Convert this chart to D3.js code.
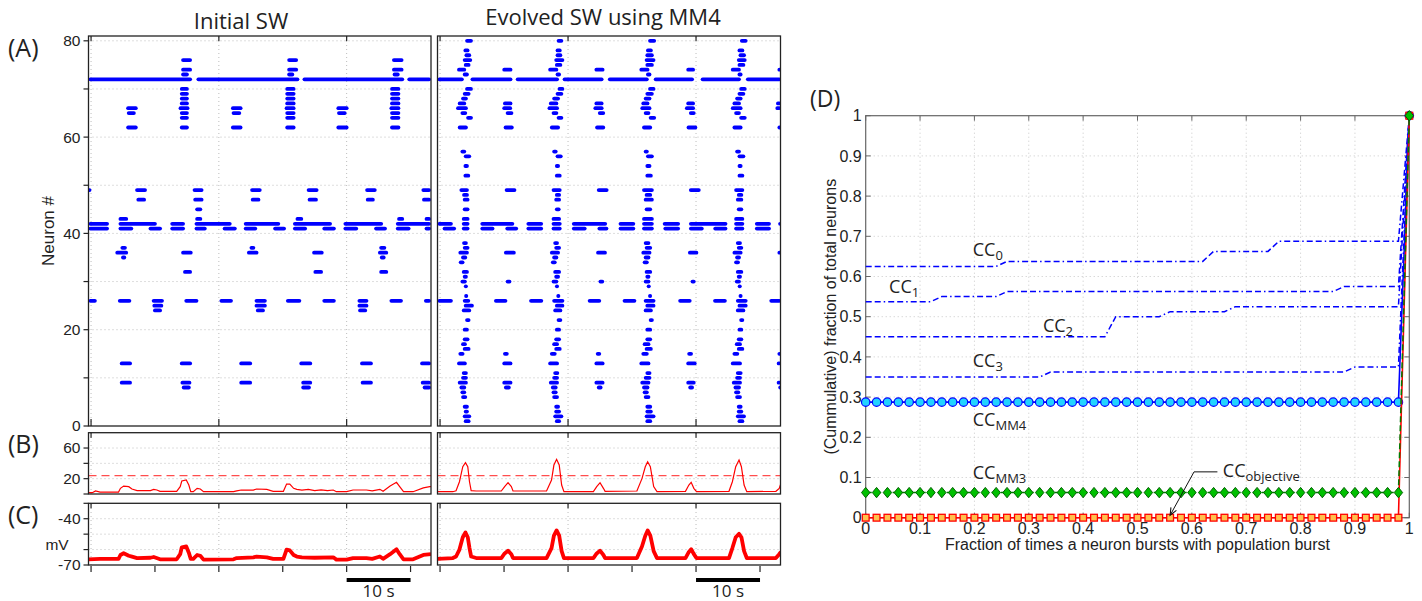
<!DOCTYPE html>
<html>
<head>
<meta charset="utf-8">
<script src="https://cdnjs.cloudflare.com/ajax/libs/d3/7.8.5/d3.min.js"></script>
<style>
  html, body { margin: 0; padding: 0; background: #fff; }
  svg { display: block; }
</style>
</head>
<body>
<script>
// ---------------------------------------------------------------------------
// Data
// ---------------------------------------------------------------------------

// Raster of bursts: [neuron #, [[start s, end s], ...]]
const rasterInitial = [
  [76, [[14.1, 15.8], [30.7, 32.4], [47.1, 48.9]]],
  [74, [[14.1, 15.8], [30.7, 32.4], [47.1, 48.9]]],
  [73, [[14.1, 15.3], [30.7, 31.8], [47.2, 48.3]]],
  [72, [[-0.4, 15.8], [16.5, 32.6], [33.1, 49.0], [49.5, 53.2]]],
  [70, [[13.9, 15.3], [30.4, 32.0], [46.8, 48.4]]],
  [69, [[13.9, 15.3], [30.4, 32.0], [46.8, 48.4]]],
  [68, [[13.9, 15.3], [30.4, 32.0], [46.8, 48.4]]],
  [67, [[13.9, 15.3], [30.4, 32.0], [46.8, 48.4]]],
  [66, [[5.5, 7.3], [13.7, 15.4], [21.9, 23.7], [30.3, 32.0], [38.4, 40.3], [46.7, 48.4]]],
  [65, [[5.6, 7.0], [13.9, 15.3], [22.0, 23.5], [30.4, 32.0], [38.5, 40.0], [46.8, 48.4]]],
  [64, [[13.9, 15.3], [30.4, 32.0], [46.8, 48.4]]],
  [62, [[5.5, 7.3], [13.9, 15.3], [21.9, 23.7], [30.4, 32.0], [38.4, 40.3], [46.8, 48.4]]],
  [49, [[-0.4, -0.1], [6.9, 8.75], [15.9, 17.6], [24.9, 26.7], [33.75, 35.6], [42.9, 44.7], [51.7, 53.2]]],
  [47, [[7.1, 8.6], [16.0, 17.6], [25.0, 26.5], [33.9, 35.5], [43.0, 44.4], [51.8, 53.2]]],
  [45, [[16.3, 17.4]]],
  [43, [[4.3, 5.8], [16.3, 17.4], [32.0, 33.2], [47.9, 49.0], [52.2, 53.2]]],
  [42, [[-0.4, 2.8], [4.3, 10.3], [12.4, 14.7], [16.2, 22.0], [23.9, 29.6], [31.6, 37.7], [39.5, 45.7], [47.7, 53.2]]],
  [41, [[-0.4, 2.8], [4.3, 6.6], [9.0, 11.1], [12.4, 14.7], [16.2, 18.1], [20.6, 22.8], [23.9, 26.0], [28.5, 30.5],
        [31.6, 33.8], [36.2, 38.3], [39.5, 41.8], [44.3, 46.3], [47.7, 50.0], [52.2, 53.2]]],
  [37, [[4.6, 5.6], [24.8, 25.7], [45.1, 46.2]]],
  [36, [[3.8, 5.8], [14.1, 15.9], [24.4, 26.2], [34.6, 36.4], [44.9, 46.5]]],
  [35, [[4.7, 5.5], [45.2, 46.1]]],
  [32, [[14.4, 15.8], [34.8, 36.3], [45.1, 46.5]]],
  [26, [[-0.4, 0.9], [4.2, 6.3], [9.5, 11.4], [14.6, 16.8], [20.1, 22.2], [25.6, 27.5], [30.5, 32.9],
        [36.2, 38.3], [41.7, 43.4], [46.7, 48.8], [52.1, 53.2]]],
  [25, [[9.6, 11.3], [25.6, 27.5], [41.7, 43.4]]],
  [24, [[9.7, 11.1], [25.8, 27.2], [41.8, 43.2]]],
  [13, [[4.5, 6.4], [13.9, 15.8], [23.2, 25.2], [32.6, 34.6], [42.1, 44.1], [51.5, 53.2]]],
  [9,  [[4.5, 6.4], [14.0, 15.7], [23.2, 25.2], [32.9, 34.6], [42.2, 44.1], [51.6, 53.2]]],
  [8,  [[14.2, 15.6], [32.9, 34.4], [51.9, 53.2]]]
];

const rasterEvolved = [
  [80, [[3.92, 5.13], [18.22, 19.26], [32.51, 33.76], [46.86, 48.06]]],
  [78, [[3.66, 4.60], [18.06, 19.0], [32.19, 33.24], [46.49, 47.54]]],
  [77, [[3.82, 4.86], [18.06, 19.1], [32.09, 33.4], [46.65, 47.8]]],
  [76, [[3.55, 5.02], [17.85, 19.42], [31.98, 33.66], [46.38, 47.91]]],
  [75, [[3.71, 4.76], [17.95, 19.1], [32.09, 33.4], [46.49, 47.7]]],
  [74, [[2.66, 4.08], [9.73, 11.31], [16.9, 18.48], [24.13, 25.7], [31.15, 32.72], [38.48, 39.84], [45.44, 47.01], [52.77, 53.3]]],
  [73, [[3.55, 4.5], [18.06, 18.9], [32.19, 33.03], [46.49, 47.27]]],
  [72, [[-0.4, 3.71], [4.76, 11.31], [11.83, 18.58], [19.16, 25.55], [26.23, 32.61], [33.4, 39.68], [40.73, 47.01], [47.8, 53.3]]],
  [70, [[3.92, 5.13], [18.37, 19.42], [32.51, 33.66], [46.75, 47.91]]],
  [69, [[3.55, 4.76], [18.06, 19.26], [32.09, 33.4], [46.49, 47.7]]],
  [68, [[3.29, 4.34], [17.53, 18.74], [31.83, 33.03], [46.12, 47.27]]],
  [67, [[2.77, 4.08], [9.84, 11.31], [17.01, 18.48], [24.13, 25.55], [31.46, 32.72], [38.48, 39.84], [45.7, 47.01], [52.5, 53.3]]],
  [66, [[2.51, 4.34], [9.73, 11.26], [16.8, 18.58], [23.97, 25.55], [31.3, 33.03], [38.27, 39.84], [45.44, 47.27], [52.4, 53.3]]],
  [65, [[3.19, 4.24], [10.26, 11.46], [17.43, 18.48], [24.66, 25.8], [31.83, 32.87], [38.89, 39.94], [45.96, 47.01]]],
  [64, [[4.08, 5.13], [18.22, 19.26], [32.61, 33.76], [46.75, 47.91]]],
  [62, [[2.77, 4.34], [9.94, 11.51], [17.17, 18.74], [24.24, 25.8], [31.57, 33.14], [38.53, 40.2], [45.7, 47.27], [52.77, 53.3]]],
  [57, [[3.19, 4.08], [17.53, 18.37], [31.83, 32.61], [46.12, 47.01]]],
  [56, [[3.71, 4.86], [18.06, 19.16], [32.19, 33.4], [46.49, 47.7]]],
  [54, [[3.66, 4.5], [17.95, 18.74], [32.09, 33.03], [46.49, 47.27]]],
  [52, [[3.66, 4.71], [17.95, 19.0], [32.09, 33.24], [46.49, 47.54]]],
  [49, [[3.03, 4.5], [10.1, 11.93], [17.43, 19.0], [24.5, 26.33], [31.57, 33.4], [38.89, 40.73], [45.96, 47.54]]],
  [48, [[3.45, 4.5], [17.95, 18.9], [31.98, 33.14], [46.38, 47.38]]],
  [47, [[3.55, 4.6], [17.85, 18.9], [31.83, 33.4], [46.23, 47.38]]],
  [45, [[3.55, 4.6], [17.95, 18.84], [31.98, 33.14], [46.38, 47.38]]],
  [43, [[3.4, 4.6], [17.43, 18.9], [31.57, 33.4], [45.96, 47.54]]],
  [42, [[-0.4, 2.0], [3.4, 4.6], [6.3, 11.6], [13.5, 16.1], [17.43, 19.0], [20.6, 26.1], [27.9, 30.5], [31.57, 33.4],
        [34.8, 37.5], [38.9, 44.9], [45.96, 47.54], [49.2, 51.7], [53.0, 53.3]]],
  [41, [[0.4, 2.5], [3.4, 4.6], [6.3, 8.5], [10.2, 12.2], [13.5, 16.1], [17.43, 19.0], [20.6, 22.9], [24.6, 26.3],
        [27.9, 30.5], [31.57, 33.4], [34.9, 37.5], [38.9, 41.2], [42.7, 44.9], [45.96, 47.54], [49.2, 51.7]]],
  [38, [[3.45, 4.34], [17.69, 18.58], [31.83, 32.87], [46.23, 47.17]]],
  [37, [[3.55, 4.6], [17.85, 18.9], [31.98, 33.14], [46.38, 47.38]]],
  [36, [[2.87, 4.5], [9.99, 11.83], [17.17, 18.74], [24.39, 26.07], [31.46, 33.03], [38.74, 40.36], [45.7, 47.27], [52.77, 53.3]]],
  [35, [[3.29, 4.24], [17.53, 18.48], [31.83, 32.87], [46.12, 47.01]]],
  [34, [[2.93, 3.82], [17.32, 18.22], [31.67, 32.61], [45.96, 46.86]]],
  [32, [[3.4, 4.5], [17.69, 18.9], [31.98, 33.14], [46.23, 47.38]]],
  [31, [[3.55, 4.34], [17.85, 18.74], [32.09, 32.87], [46.38, 47.17]]],
  [30, [[3.19, 4.18], [10.26, 11.15], [17.43, 18.48], [24.76, 25.65], [31.83, 32.87], [39.15, 39.94], [46.07, 47.01]]],
  [29, [[3.82, 4.24], [18.06, 18.48], [32.35, 32.87], [46.65, 47.01]]],
  [27, [[3.82, 4.34], [18.22, 18.74], [32.61, 33.03], [46.75, 47.17]]],
  [26, [[-0.4, 2.0], [3.55, 4.71], [8.43, 10.52], [13.92, 16.12], [17.53, 19.42], [23.08, 25.18], [28.53, 30.67],
        [31.83, 33.66], [37.22, 39.31], [42.67, 44.81], [46.23, 48.06], [51.46, 53.3]]],
  [25, [[3.71, 5.28], [17.95, 19.42], [32.09, 33.66], [46.49, 48.06]]],
  [24, [[3.4, 4.86], [17.69, 19.1], [31.83, 33.24], [46.23, 47.7]]],
  [22, [[3.92, 4.76], [18.22, 19.1], [32.61, 33.4], [46.75, 47.54]]],
  [20, [[3.55, 4.5], [17.95, 18.9], [32.09, 33.14], [46.49, 47.38]]],
  [18, [[3.55, 4.6], [17.85, 18.9], [32.09, 33.14], [46.38, 47.38]]],
  [17, [[3.29, 4.18], [17.53, 18.58], [31.67, 32.87], [46.07, 47.17]]],
  [16, [[3.55, 4.76], [17.85, 19.0], [31.98, 33.24], [46.38, 47.54]]],
  [15, [[2.87, 3.82], [9.84, 10.73], [17.17, 18.22], [24.34, 25.18], [31.46, 32.61], [38.63, 39.52], [45.7, 46.75], [52.77, 53.3]]],
  [13, [[2.66, 4.18], [9.73, 11.31], [16.9, 18.58], [24.13, 25.7], [31.15, 32.87], [38.48, 40.1], [45.44, 47.17], [52.61, 53.3]]],
  [11, [[3.4, 4.34], [17.69, 18.63], [32.09, 33.03], [46.23, 47.27]]],
  [10, [[3.29, 4.34], [17.53, 18.58], [31.83, 33.03], [46.12, 47.17]]],
  [9,  [[2.77, 4.34], [9.73, 11.31], [17.01, 18.58], [24.13, 25.7], [31.3, 32.87], [38.48, 39.94], [45.6, 47.17], [52.61, 53.3]]],
  [8,  [[3.03, 4.08], [9.99, 11.04], [17.32, 18.37], [24.5, 25.39], [31.57, 32.72], [38.79, 39.68], [45.86, 47.01], [53.03, 53.3]]],
  [7,  [[3.19, 4.08], [17.43, 18.37], [31.67, 32.61], [45.96, 46.91]]],
  [6,  [[3.29, 4.24], [17.53, 18.58], [31.83, 32.87], [46.12, 47.17]]],
  [4,  [[3.55, 4.5], [17.85, 18.74], [32.09, 33.14], [46.38, 47.27]]],
  [3,  [[3.71, 4.5], [17.85, 18.9], [32.09, 33.24], [46.38, 47.38]]],
  [2,  [[3.55, 4.86], [17.69, 19.26], [31.98, 33.66], [46.23, 47.8]]],
  [1,  [[3.71, 4.76], [17.95, 18.9], [32.09, 33.14], [46.49, 47.54]]]
];

// Population firing rate: [time s, rate]
const rateInitial = [
  [-0.4, 1.7], [0.2, 1.7], [0.7, 4], [1.4, 2.5], [4.3, 2.5], [4.6, 7.4], [5.1, 10.4], [5.9, 9.6], [6.4, 6.5],
  [7.2, 4.5], [9.3, 4.5], [9.8, 6.1], [10.3, 5.2], [10.8, 3.5], [13.4, 3.5], [13.95, 9.6], [14.2, 17],
  [14.9, 18.3], [15.3, 11.7], [15.6, 3], [16.0, 3], [16.6, 7.4], [17.1, 6.5], [17.6, 3], [22.3, 3],
  [22.8, 4], [23.5, 5.2], [25.4, 5], [25.9, 6.5], [27.5, 6], [28.5, 3.5], [30.1, 3.5], [30.6, 13],
  [31.1, 13], [31.7, 7.4], [32.2, 6.1], [33, 5], [34, 6], [35, 4.5], [36, 5.5], [37, 4.5], [37.9, 5.2],
  [38.4, 3], [40.0, 3], [41.0, 5.2], [43.1, 5.2], [44, 4], [45.2, 6.1], [45.7, 3.5], [46.8, 10.4],
  [47.8, 15.2], [48.3, 9.6], [48.9, 3], [50.4, 3], [52, 8], [53.0, 9.6], [53.2, 9.6]
];
const rateEvolved = [
  [-0.4, 3], [2.0, 3], [2.5, 4.3], [3.03, 16], [3.55, 35.6], [3.97, 40.9], [4.33, 35.6], [4.6, 16], [4.86, 4.3],
  [5.64, 3.9], [9.57, 3.9], [10.09, 9.6], [10.62, 14.8], [11.14, 9.6], [11.4, 3.9], [16.64, 3.9], [17.42, 18.3],
  [17.79, 37.8], [18.21, 45.2], [18.62, 37.8], [19.0, 11.7], [19.36, 3], [23.96, 3], [24.48, 9.6], [25.0, 14.8],
  [25.53, 7.4], [25.79, 3.5], [30.76, 3.9], [31.55, 20], [32.07, 35.6], [32.44, 42.1], [32.86, 35.6], [33.38, 9.6],
  [33.9, 3], [38.35, 3.5], [38.88, 11.7], [39.24, 15.2], [39.66, 7.4], [40.08, 3], [45.15, 3.5], [45.68, 16],
  [46.2, 35.6], [46.72, 44.3], [47.09, 35.6], [47.51, 11.7], [47.93, 3], [52.48, 3.5], [53.0, 7.4], [53.26, 13.9]
];
const rateThreshold = 24;

// Mean membrane potential: [time s, mV]
const vmInitial = [
  [-0.4, -66.3], [1.4, -66], [4.3, -66], [4.6, -63.5], [5.1, -62.4], [5.9, -64], [6.4, -64.6], [7.2, -65.5],
  [9.3, -65.3], [9.8, -64.8], [10.8, -66.3], [13.4, -66.3], [13.95, -63], [14.2, -58.5], [14.9, -58],
  [15.3, -62], [15.6, -66], [16.0, -66], [16.6, -63.5], [17.1, -64], [17.6, -66.5], [22.3, -66.3],
  [22.8, -65.5], [25.4, -65], [25.9, -64.6], [27.5, -65], [28.5, -66], [30.1, -66], [30.6, -60],
  [31.1, -60.5], [31.7, -63.5], [32.2, -64.5], [33, -65], [35, -65.3], [37.9, -65], [38.4, -66.5],
  [40, -66.5], [41, -65.5], [43.1, -65.5], [44, -66], [45.2, -64.5], [45.7, -66], [46.8, -63],
  [47.8, -59.8], [48.3, -63], [48.9, -66.3], [50.4, -66.3], [52, -63.5], [53.2, -63]
];
const vmEvolved = [
  [-0.4, -66], [2.0, -65.5], [2.5, -64.5], [3.03, -60], [3.55, -52], [3.97, -48.9], [4.33, -52], [4.6, -59],
  [4.86, -64.5], [5.64, -65.5], [9.57, -65.5], [10.09, -62.5], [10.62, -60.7], [11.14, -63], [11.4, -65.5],
  [16.64, -65.5], [17.42, -59], [17.79, -51], [18.21, -47.6], [18.62, -51], [19.0, -61], [19.36, -65.5],
  [23.96, -65.5], [24.48, -62.5], [25.0, -60.7], [25.53, -63.5], [25.79, -65.5], [30.76, -65.5], [31.55, -58],
  [32.07, -51], [32.44, -47.6], [32.86, -51], [33.38, -61], [33.9, -65.5], [38.35, -65.5], [38.88, -61.5],
  [39.24, -59.8], [39.66, -63], [40.08, -65.5], [45.15, -65.5], [45.68, -59], [46.2, -52], [46.72, -49.8],
  [47.09, -52], [47.51, -61], [47.93, -65.5], [52.48, -65.5], [53.0, -63], [53.26, -61.5]
];

// Cumulative fraction of neurons vs. fraction of times bursting with population
const fracBins = [
  0, 0.02, 0.04, 0.06, 0.08, 0.1, 0.12, 0.14, 0.16, 0.18,
  0.2, 0.22, 0.24, 0.26, 0.28, 0.3, 0.32, 0.34, 0.36, 0.38,
  0.4, 0.42, 0.44, 0.46, 0.48, 0.5, 0.52, 0.54, 0.56, 0.58,
  0.6, 0.62, 0.64, 0.66, 0.68, 0.7, 0.72, 0.74, 0.76, 0.78,
  0.8, 0.82, 0.84, 0.86, 0.88, 0.9, 0.92, 0.94, 0.96, 0.98, 1
];
const ccMM4 = [
  0.2875, 0.2875, 0.2875, 0.2875, 0.2875, 0.2875, 0.2875, 0.2875, 0.2875, 0.2875,
  0.2875, 0.2875, 0.2875, 0.2875, 0.2875, 0.2875, 0.2875, 0.2875, 0.2875, 0.2875,
  0.2875, 0.2875, 0.2875, 0.2875, 0.2875, 0.2875, 0.2875, 0.2875, 0.2875, 0.2875,
  0.2875, 0.2875, 0.2875, 0.2875, 0.2875, 0.2875, 0.2875, 0.2875, 0.2875, 0.2875,
  0.2875, 0.2875, 0.2875, 0.2875, 0.2875, 0.2875, 0.2875, 0.2875, 0.2875, 0.2875, 1
];
const ccMM3 = [
  0.0625, 0.0625, 0.0625, 0.0625, 0.0625, 0.0625, 0.0625, 0.0625, 0.0625, 0.0625,
  0.0625, 0.0625, 0.0625, 0.0625, 0.0625, 0.0625, 0.0625, 0.0625, 0.0625, 0.0625,
  0.0625, 0.0625, 0.0625, 0.0625, 0.0625, 0.0625, 0.0625, 0.0625, 0.0625, 0.0625,
  0.0625, 0.0625, 0.0625, 0.0625, 0.0625, 0.0625, 0.0625, 0.0625, 0.0625, 0.0625,
  0.0625, 0.0625, 0.0625, 0.0625, 0.0625, 0.0625, 0.0625, 0.0625, 0.0625, 0.0625, 1
];
const ccObjective = [
  0, 0, 0, 0, 0, 0, 0, 0, 0, 0,
  0, 0, 0, 0, 0, 0, 0, 0, 0, 0,
  0, 0, 0, 0, 0, 0, 0, 0, 0, 0,
  0, 0, 0, 0, 0, 0, 0, 0, 0, 0,
  0, 0, 0, 0, 0, 0, 0, 0, 0, 0, 1
];
// Dash-dot curves, as [fraction, cumulative] vertices
const cc0 = [[0, 0.625], [0.24, 0.625], [0.26, 0.6375], [0.62, 0.6375], [0.64, 0.6625], [0.74, 0.6625], [0.76, 0.6875], [0.98, 0.6875], [1, 1]];
const cc1 = [[0, 0.5375], [0.12, 0.5375], [0.14, 0.55], [0.24, 0.55], [0.26, 0.5625], [0.86, 0.5625], [0.88, 0.575], [0.98, 0.575], [1, 1]];
const cc2 = [[0, 0.45], [0.44, 0.45], [0.46, 0.5], [0.54, 0.5], [0.56, 0.5125], [0.66, 0.5125], [0.68, 0.525], [0.98, 0.525], [1, 1]];
const cc3 = [[0, 0.35], [0.32, 0.35], [0.34, 0.3625], [0.88, 0.3625], [0.9, 0.375], [0.98, 0.375], [1, 1]];

// Tick values
const neuronTicks = [0, 10, 20, 30, 40, 50, 60, 70, 80];
const neuronLabels = [0, 20, 40, 60, 80];
const rateTicks = [0, 20, 40, 60];
const rateLabels = [20, 60];
const vmTicks = [-70, -60, -50, -40, -30];
const vmLabels = [-40, -70];
const timeMajor = [0, 20, 40];
const timeMinor = [0, 10, 20, 30, 40, 50];
const fracTicks = [0, 0.1, 0.2, 0.3, 0.4, 0.5, 0.6, 0.7, 0.8, 0.9, 1];

// ---------------------------------------------------------------------------
// Drawing
// ---------------------------------------------------------------------------
const W = 1422, H = 601;
const svg = d3.select("body").append("svg").attr("width", W).attr("height", H);
svg.append("rect").attr("width", W).attr("height", H).attr("fill", "#fff");
const defs = svg.append("defs");

const fontTick = "'Liberation Sans', Arial, sans-serif";
const fontTex = "'Open Sans', 'DejaVu Sans', sans-serif";
const gridColor = "#bcbcbc";

const timeDomain = [-0.4, 53.2];
const colLeft = [88.5, 431];
const colRight = [437.5, 780.5];
const rowA = [426, 36];
const rowB = [494, 432.7];
const rowC = [565, 503.3];

let clipCount = 0;
function panel(xr, yr, xDomain, yDomain) {
  const x = d3.scaleLinear().domain(xDomain).range(xr);
  const y = d3.scaleLinear().domain(yDomain).range(yr);
  const g = svg.append("g");
  const id = "clip" + (clipCount++);
  defs.append("clipPath").attr("id", id).append("rect")
    .attr("x", xr[0]).attr("y", yr[1]).attr("width", xr[1] - xr[0]).attr("height", yr[0] - yr[1]);
  const grid = g.append("g");
  const body = g.append("g").attr("clip-path", `url(#${id})`);
  const over = g.append("g");
  return { x, y, g, grid, body, over, xr, yr };
}

function hGrid(p, vals) {
  p.grid.selectAll(null).data(vals).join("line")
    .attr("x1", p.xr[0]).attr("x2", p.xr[1])
    .attr("y1", d => p.y(d)).attr("y2", d => p.y(d))
    .attr("stroke", gridColor).attr("stroke-width", 1).attr("stroke-dasharray", "1,3");
}
function vGrid(p, vals) {
  p.grid.selectAll(null).data(vals).join("line")
    .attr("y1", p.yr[0]).attr("y2", p.yr[1])
    .attr("x1", d => p.x(d)).attr("x2", d => p.x(d))
    .attr("stroke", gridColor).attr("stroke-width", 1).attr("stroke-dasharray", "1,3");
}
function frame(p, color, width) {
  p.over.append("rect")
    .attr("x", p.xr[0]).attr("y", p.yr[1])
    .attr("width", p.xr[1] - p.xr[0]).attr("height", p.yr[0] - p.yr[1])
    .attr("fill", "none").attr("stroke", color || "#222").attr("stroke-width", width || 1.3);
}
// ticks along a horizontal edge at yEdge; positive len points downward
function xTicks(p, vals, yEdge, len) {
  p.over.selectAll(null).data(vals).join("line")
    .attr("x1", d => p.x(d)).attr("x2", d => p.x(d))
    .attr("y1", yEdge).attr("y2", yEdge + len)
    .attr("stroke", "#222").attr("stroke-width", 1.2);
}
function yTicksLeft(p, vals, labels, len) {
  p.over.selectAll(null).data(vals).join("line")
    .attr("x1", p.xr[0] - len).attr("x2", p.xr[0])
    .attr("y1", d => p.y(d)).attr("y2", d => p.y(d))
    .attr("stroke", "#222").attr("stroke-width", 1.2);
  p.over.selectAll(null).data(labels).join("text")
    .attr("x", p.xr[0] - len - 3).attr("y", d => p.y(d))
    .attr("dy", "0.35em").attr("text-anchor", "end")
    .attr("font-family", fontTick).attr("font-size", 15.5).attr("fill", "#222")
    .text(d => d);
}

function drawRaster(p, data) {
  const segs = [];
  data.forEach(([n, list]) => list.forEach(([t0, t1]) => segs.push({ n, t0, t1 })));
  const r = 1.9;
  p.body.selectAll(null).data(segs).join("line")
    .attr("x1", d => { const a = p.x(d.t0) + r, b = p.x(d.t1) - r; return b > a ? a : (a + b) / 2 - 0.1; })
    .attr("x2", d => { const a = p.x(d.t0) + r, b = p.x(d.t1) - r; return b > a ? b : (a + b) / 2 + 0.1; })
    .attr("y1", d => p.y(d.n)).attr("y2", d => p.y(d.n))
    .attr("stroke", "#0000ff").attr("stroke-width", 3.8).attr("stroke-linecap", "round");
}

// --- (A) rasters ---
[[colLeft, rasterInitial, true], [colRight, rasterEvolved, false]].forEach(([xr, data, labelled]) => {
  const p = panel(xr, rowA, timeDomain, [0, 81]);
  hGrid(p, [10, 20, 30, 40, 50, 60, 70, 80]);
  vGrid(p, timeMajor);
  drawRaster(p, data);
  frame(p);
  xTicks(p, timeMajor, rowA[0], -7);
  xTicks(p, timeMajor, rowA[1], 5);
  if (labelled) yTicksLeft(p, neuronTicks, neuronLabels, 5);
});

// --- (B) population rate ---
[[colLeft, rateInitial, true], [colRight, rateEvolved, false]].forEach(([xr, data, labelled]) => {
  const p = panel(xr, rowB, timeDomain, [0, 80]);
  hGrid(p, [20, 40, 60]);
  vGrid(p, timeMajor);
  p.body.append("line")
    .attr("x1", p.xr[0]).attr("x2", p.xr[1])
    .attr("y1", p.y(rateThreshold)).attr("y2", p.y(rateThreshold))
    .attr("stroke", "#ff4d4d").attr("stroke-width", 1.3).attr("stroke-dasharray", "8,5");
  p.body.append("path").datum(data)
    .attr("d", d3.line().x(d => p.x(d[0])).y(d => p.y(d[1])))
    .attr("fill", "none").attr("stroke", "#ff0000").attr("stroke-width", 1.2);
  frame(p);
  xTicks(p, timeMajor, rowB[1], 5);
  if (labelled) yTicksLeft(p, rateTicks, rateLabels, 5);
});

// --- (C) membrane potential ---
[[colLeft, vmInitial, true], [colRight, vmEvolved, false]].forEach(([xr, data, labelled]) => {
  const p = panel(xr, rowC, timeDomain, [-70, -30]);
  hGrid(p, [-60, -50, -40]);
  vGrid(p, timeMajor);
  p.body.append("path").datum(data)
    .attr("d", d3.line().x(d => p.x(d[0])).y(d => p.y(d[1])))
    .attr("fill", "none").attr("stroke", "#ff0000").attr("stroke-width", 3.8)
    .attr("stroke-linejoin", "round");
  frame(p);
  xTicks(p, timeMajor, rowC[1], 5);
  xTicks(p, timeMinor, rowC[0] + 1, 6);
  if (labelled) {
    yTicksLeft(p, vmTicks, vmLabels, 5);
    p.over.append("text").attr("x", 57).attr("y", 550).attr("text-anchor", "middle")
      .attr("font-family", fontTick).attr("font-size", 15.5).attr("fill", "#222").text("mV");
  }
  // 10 s scale bar
  p.over.append("line")
    .attr("x1", p.x(40)).attr("x2", p.x(50)).attr("y1", 580).attr("y2", 580)
    .attr("stroke", "#000").attr("stroke-width", 4);
  p.over.append("text").attr("x", p.x(45)).attr("y", 597).attr("text-anchor", "middle")
    .attr("font-family", fontTex).attr("font-size", 17).attr("fill", "#222").text("10 s");
});

// Titles and panel letters
svg.append("text").attr("x", 241).attr("y", 29).attr("text-anchor", "middle")
  .attr("font-family", fontTex).attr("font-size", 22).attr("fill", "#222").text("Initial SW");
svg.append("text").attr("x", 603).attr("y", 25).attr("text-anchor", "middle")
  .attr("font-family", fontTex).attr("font-size", 22).attr("fill", "#222").text("Evolved SW using MM4");
[["(A)", 57], ["(B)", 453], ["(C)", 524]].forEach(([t, yy]) => {
  svg.append("text").attr("x", 8).attr("y", yy)
    .attr("font-family", fontTex).attr("font-size", 25).attr("fill", "#222").text(t);
});
svg.append("text").attr("transform", "translate(54,231) rotate(-90)").attr("text-anchor", "middle")
  .attr("font-family", fontTick).attr("font-size", 17).attr("fill", "#222").text("Neuron #");

// --- (D) cumulative curves ---
const xD = d3.scaleLinear().domain([0, 1]).range([865.7, 1409.3]);
const yD = d3.scaleLinear().domain([0, 1]).range([517.7, 115.7]);
const gD = svg.append("g");
// grid
gD.selectAll(null).data(fracTicks.slice(1, -1)).join("line")
  .attr("x1", d => xD(d)).attr("x2", d => xD(d)).attr("y1", yD(0)).attr("y2", yD(1))
  .attr("stroke", "#c8c8c8").attr("stroke-dasharray", "1,3");
gD.selectAll(null).data(fracTicks.slice(1, -1)).join("line")
  .attr("y1", d => yD(d)).attr("y2", d => yD(d)).attr("x1", xD(0)).attr("x2", xD(1))
  .attr("stroke", "#c8c8c8").attr("stroke-dasharray", "1,3");
// box and inward ticks
gD.append("rect").attr("x", xD(0)).attr("y", yD(1)).attr("width", xD(1) - xD(0)).attr("height", yD(0) - yD(1))
  .attr("fill", "none").attr("stroke", "#666").attr("stroke-width", 1.2);
const tickLen = 5;
fracTicks.forEach(v => {
  gD.append("line").attr("x1", xD(v)).attr("x2", xD(v)).attr("y1", yD(0)).attr("y2", yD(0) - tickLen).attr("stroke", "#666");
  gD.append("line").attr("x1", xD(v)).attr("x2", xD(v)).attr("y1", yD(1)).attr("y2", yD(1) + tickLen).attr("stroke", "#666");
  gD.append("line").attr("y1", yD(v)).attr("y2", yD(v)).attr("x1", xD(0)).attr("x2", xD(0) + tickLen).attr("stroke", "#666");
  gD.append("line").attr("y1", yD(v)).attr("y2", yD(v)).attr("x1", xD(1)).attr("x2", xD(1) - tickLen).attr("stroke", "#666");
});
const fmt = d => (d === 0 ? "0" : d === 1 ? "1" : d.toFixed(1));
gD.selectAll(null).data(fracTicks).join("text")
  .attr("x", xD(0) - 4).attr("y", d => yD(d)).attr("dy", "0.36em").attr("text-anchor", "end")
  .attr("font-family", fontTick).attr("font-size", 16).attr("fill", "#222").text(fmt);
gD.selectAll(null).data(fracTicks).join("text")
  .attr("x", d => xD(d)).attr("y", 534).attr("text-anchor", "middle")
  .attr("font-family", fontTick).attr("font-size", 16).attr("fill", "#222").text(fmt);
gD.append("text").attr("x", (xD(0) + xD(1)) / 2).attr("y", 550).attr("text-anchor", "middle")
  .attr("font-family", fontTick).attr("font-size", 16).attr("fill", "#222")
  .text("Fraction of times a neuron bursts with population burst");
gD.append("text").attr("transform", `translate(836,${(yD(0) + yD(1)) / 2}) rotate(-90)`).attr("text-anchor", "middle")
  .attr("font-family", fontTick).attr("font-size", 16).attr("fill", "#222")
  .text("(Cummulative) fraction of total neurons");
svg.append("text").attr("x", 810).attr("y", 107)
  .attr("font-family", fontTex).attr("font-size", 23).attr("fill", "#222").text("(D)");

// dash-dot curves
const lineV = d3.line().x(d => xD(d[0])).y(d => yD(d[1]));
[cc0, cc1, cc2, cc3].forEach(c => {
  gD.append("path").datum(c).attr("d", lineV)
    .attr("fill", "none").attr("stroke", "#0000ff").attr("stroke-width", 1.5)
    .attr("stroke-dasharray", "6,3,6,3,1.5,3");
});
// marker series
function series(vals) { return fracBins.map((f, i) => [f, vals[i]]); }
const sMM4 = series(ccMM4), sMM3 = series(ccMM3), sObj = series(ccObjective);

gD.append("path").datum(sMM4).attr("d", lineV)
  .attr("fill", "none").attr("stroke", "#0000ff").attr("stroke-width", 1.6);
gD.selectAll(null).data(sMM4).join("circle")
  .attr("cx", d => xD(d[0])).attr("cy", d => yD(d[1])).attr("r", 4.2)
  .attr("fill", "#22d3ff").attr("stroke", "#0000ff").attr("stroke-width", 1.2);

gD.append("path").datum(sObj).attr("d", lineV)
  .attr("fill", "none").attr("stroke", "#ff0000").attr("stroke-width", 1.6);
gD.selectAll(null).data(sObj).join("rect")
  .attr("x", d => xD(d[0]) - 3.4).attr("y", d => yD(d[1]) - 3.4).attr("width", 6.8).attr("height", 6.8)
  .attr("fill", "#ffc04d").attr("stroke", "#ff0000").attr("stroke-width", 1.3);

gD.append("path").datum(sMM3).attr("d", lineV)
  .attr("fill", "none").attr("stroke", "#007a00").attr("stroke-width", 1.5).attr("stroke-dasharray", "6,3");
gD.selectAll(null).data(sMM3).join("path")
  .attr("d", d => { const cx = xD(d[0]), cy = yD(d[1]); return `M${cx},${cy - 5.2}L${cx + 4.2},${cy}L${cx},${cy + 5.2}L${cx - 4.2},${cy}Z`; })
  .attr("fill", "#00c000").attr("stroke", "#006000").attr("stroke-width", 1);

// curve labels
function ccLabel(fx, fy, sub) {
  const t = gD.append("text").attr("x", xD(fx)).attr("y", yD(fy))
    .attr("font-family", fontTex).attr("font-size", 18).attr("fill", "#222");
  t.append("tspan").text("CC");
  t.append("tspan").attr("dy", 4).attr("font-size", 13).text(sub);
}
ccLabel(0.197, 0.651, "0");
ccLabel(0.043, 0.559, "1");
ccLabel(0.326, 0.463, "2");
ccLabel(0.197, 0.375, "3");
ccLabel(0.197, 0.228, "MM4");
ccLabel(0.197, 0.096, "MM3");
ccLabel(0.657, 0.101, "objective");

// arrow to the objective curve
const arrowPts = [[0.647, 0.114], [0.604, 0.114], [0.56, 0.006]];
gD.append("path").datum(arrowPts).attr("d", lineV)
  .attr("fill", "none").attr("stroke", "#111").attr("stroke-width", 1);
{
  const [bx, by] = [xD(arrowPts[1][0]), yD(arrowPts[1][1])];
  const [tx, ty] = [xD(arrowPts[2][0]), yD(arrowPts[2][1])];
  const ang = Math.atan2(ty - by, tx - bx);
  const L = 8, spread = 0.4;
  const p1 = [tx - L * Math.cos(ang - spread), ty - L * Math.sin(ang - spread)];
  const p2 = [tx - L * Math.cos(ang + spread), ty - L * Math.sin(ang + spread)];
  gD.append("path").attr("d", `M${p1[0]},${p1[1]}L${tx},${ty}L${p2[0]},${p2[1]}`)
    .attr("fill", "none").attr("stroke", "#111").attr("stroke-width", 1.1);
}
</script>
</body>
</html>
